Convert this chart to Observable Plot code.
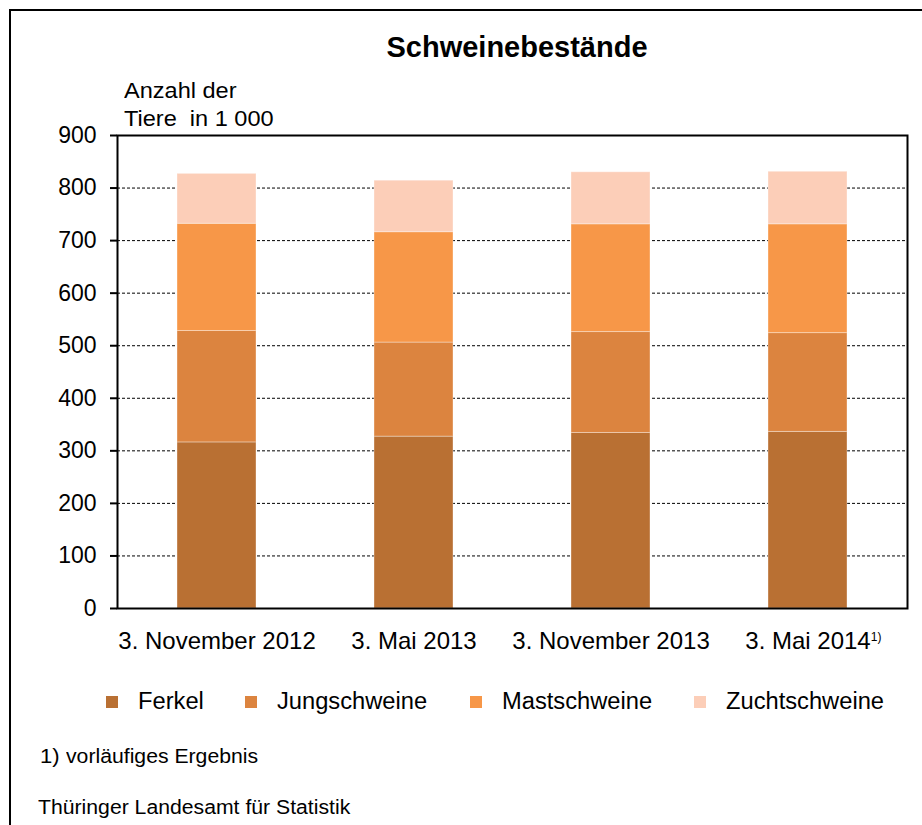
<!DOCTYPE html>
<html>
<head>
<meta charset="utf-8">
<script src="https://cdn.jsdelivr.net/npm/d3@7"></script>
<script src="https://cdn.jsdelivr.net/npm/@observablehq/plot@0.6"></script>
<style>
  html, body { margin: 0; padding: 0; background: #fff; }
  body { width: 922px; height: 825px; position: relative; overflow: hidden;
         font-family: "Liberation Sans", Arial, sans-serif; color: #000; }
  .abs { position: absolute; line-height: 1; white-space: pre; transform-origin: 0 0; }
  #frame { position: absolute; left: 9px; top: 9px; width: 1000px; height: 1000px;
           border: 2px solid #000; box-sizing: border-box; }
  #chart { position: absolute; left: 0; top: 0; }
  .sw { position: absolute; width: 12px; height: 12px; }
</style>
</head>
<body>
<div id="frame"></div>
<div id="chart"></div>
<div class="abs" id="title" style="left:0;width:1034px;text-align:center;top:33px;font-size:29px;font-weight:bold;">Schweinebestände</div>
<div class="abs" style="left:124px;top:80px;font-size:22px;transform:scaleX(1.07);">Anzahl der</div>
<div class="abs" style="left:124px;top:108px;font-size:22px;transform:scaleX(1.07);">Tiere  in 1 000</div>
<div id="legend"></div>
<div class="abs" style="left:40px;top:745px;font-size:21px;transform:scaleX(1.05);">1)</div>
<div class="abs" style="left:66px;top:746px;font-size:20px;transform:scaleX(1.06);">vorläufiges Ergebnis</div>
<div class="abs" style="left:38px;top:797px;font-size:20px;transform:scaleX(1.06);">Thüringer Landesamt für Statistik</div>
<script>
// ---- data ----
const categories = ["3. November 2012", "3. Mai 2013", "3. November 2013", "3. Mai 2014"];
const series = ["Ferkel", "Jungschweine", "Mastschweine", "Zuchtschweine"];
const ferkel        = [316, 327, 334, 336];
const jungschweine  = [212, 179, 192, 188];
const mastschweine  = [204, 210, 205, 207];
const zuchtschweine = [95, 98, 99, 100];
const colors = ["#B97033", "#DC843F", "#F79748", "#FCCEB8"];
const yTicks = [0, 100, 200, 300, 400, 500, 600, 700, 800, 900];
const footnoteCategory = "3. Mai 2014";
const footnoteMark = "1)";

const valuesBySeries = [ferkel, jungschweine, mastschweine, zuchtschweine];
const rows = [];
categories.forEach((c, i) => {
  series.forEach((s, j) => rows.push({date: c, series: s, value: valuesBySeries[j][i]}));
});

const plot = Plot.plot({
  width: 922,
  height: 660,
  marginTop: 135,
  marginBottom: 52,
  marginLeft: 117,
  marginRight: 15,
  style: {fontFamily: "'Liberation Sans', Arial, sans-serif", color: "#000", background: "transparent", overflow: "visible"},
  x: {domain: categories, paddingInner: 0.6, paddingOuter: 0.3, label: null},
  y: {domain: [0, 900], label: null},
  color: {domain: series, range: colors},
  marks: [
    Plot.gridY(yTicks, {stroke: "#000", strokeOpacity: 1, strokeWidth: 1, strokeDasharray: "3,2"}),
    Plot.barY(rows, {x: "date", y: "value", fill: "series", stroke: "#fff", strokeOpacity: 0.35, strokeWidth: 1}),
    Plot.frame({stroke: "#000", strokeWidth: 2}),
    Plot.axisY(yTicks, {tickSize: 7, tickPadding: 14, fontSize: 23, strokeWidth: 2}),
    Plot.axisX({tickSize: 0, tickPadding: 23, fontSize: 24})
  ]
});
document.getElementById("chart").appendChild(plot);

// superscript footnote mark on the last category label
d3.select(plot).selectAll("text").each(function() {
  if (this.textContent === footnoteCategory) {
    const L = this.getComputedTextLength();
    const t = d3.select(this);
    t.attr("text-anchor", "start").attr("x", -L / 2);
    t.append("tspan").attr("font-size", 12).attr("dy", -8).text(footnoteMark);
  }
});

// legend
const legendLeft = [106, 245, 470, 694];
const legend = document.getElementById("legend");
series.forEach((s, j) => {
  const sw = document.createElement("div");
  sw.className = "sw";
  sw.style.left = legendLeft[j] + "px";
  sw.style.top = "696px";
  sw.style.background = colors[j];
  legend.appendChild(sw);
  const tx = document.createElement("div");
  tx.className = "abs";
  tx.style.left = (legendLeft[j] + 32) + "px";
  tx.style.top = "690px";
  tx.style.fontSize = "23px";
  tx.style.transform = "scaleX(1.03)";
  tx.textContent = s;
  legend.appendChild(tx);
});
</script>
</body>
</html>
